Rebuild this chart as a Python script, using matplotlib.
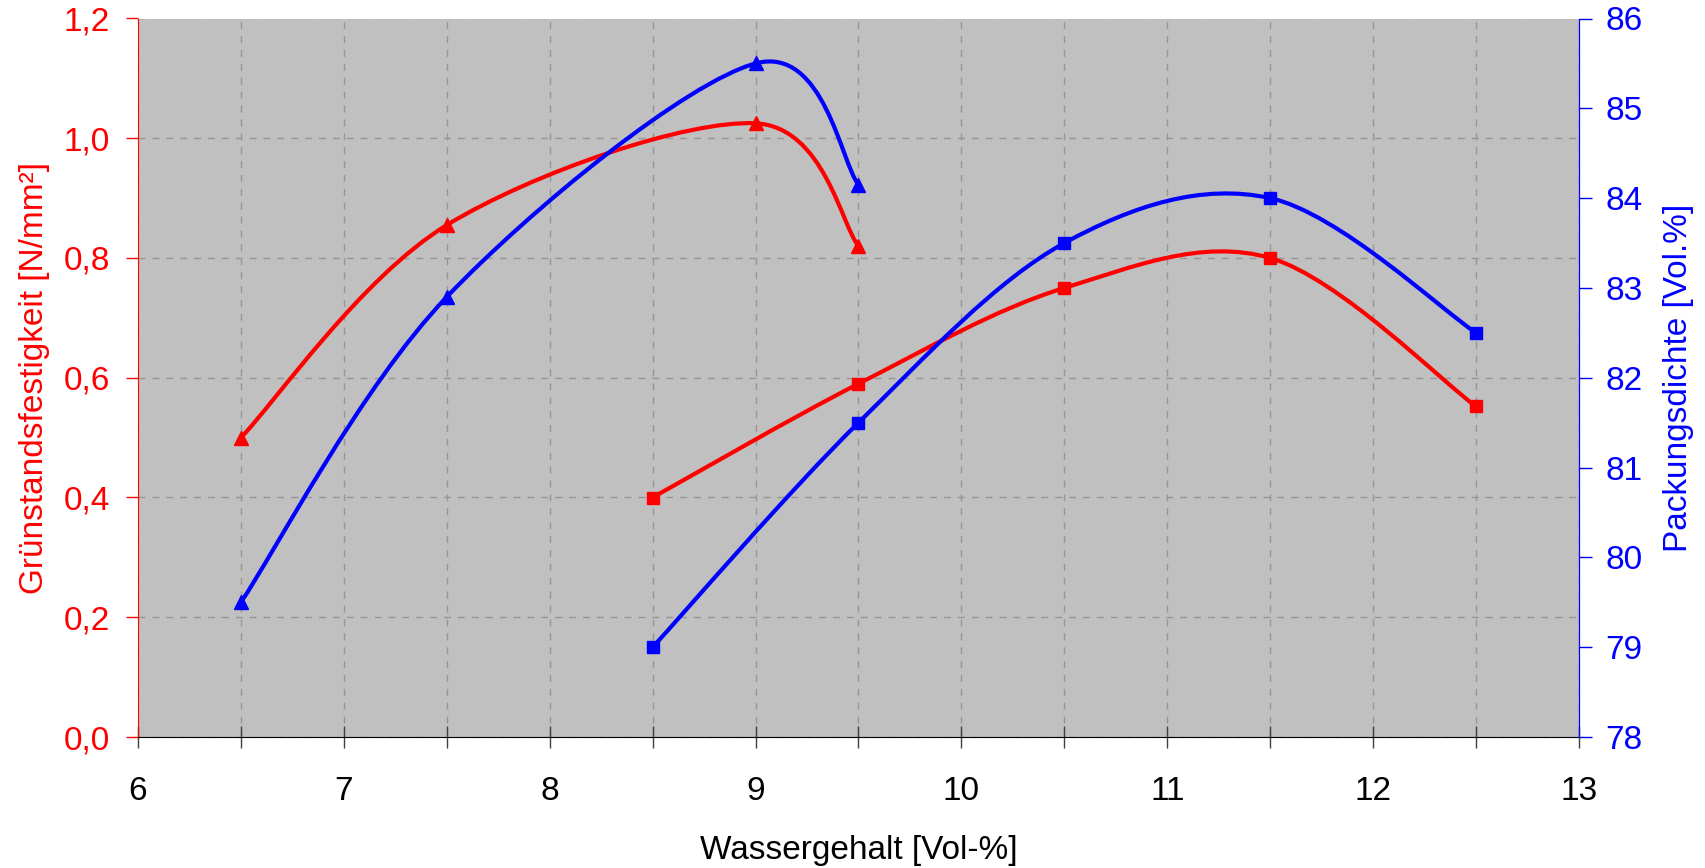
import numpy as np
import matplotlib.pyplot as plt
from matplotlib.path import Path
from matplotlib.patches import PathPatch
from matplotlib.ticker import MultipleLocator, FuncFormatter

plt.rcParams['font.family'] = ['Liberation Sans', 'DejaVu Sans']

# triangle series
x_tri = [6.5, 7.5, 9.0, 9.5]
festigkeit_tri = [0.50, 0.855, 1.025, 0.82]
dichte_tri = [79.5, 82.9, 85.5, 84.15]

# square series
x_sq = [8.5, 9.5, 10.5, 11.5, 12.5]
festigkeit_sq = [0.40, 0.59, 0.75, 0.80, 0.552]
dichte_sq = [79.0, 81.5, 83.5, 84.0, 82.5]


def smooth_path(xs, ys):
    # excel-like smoothed line: cubic bezier, catmull-rom control points
    p = np.column_stack([xs, ys]).astype(float)
    n = len(p)
    verts = [p[0]]
    codes = [Path.MOVETO]
    for i in range(n - 1):
        p0 = p[i - 1] if i > 0 else p[i]
        p3 = p[i + 2] if i + 2 < n else p[i + 1]
        c1 = p[i] + (p[i + 1] - p0) / 6
        c2 = p[i + 1] - (p3 - p[i]) / 6
        verts += [c1, c2, p[i + 1]]
        codes += [Path.CURVE4] * 3
    return Path(verts, codes)


red = '#FF0000'
blue = '#0000FF'

fig = plt.figure(figsize=(17.06, 8.68), dpi=100)
ax = fig.add_subplot(111)
fig.subplots_adjust(left=138 / 1706, right=1579 / 1706, top=1 - 18.5 / 868, bottom=1 - 737 / 868)
ax2 = ax.twinx()

ax.set_facecolor('#C0C0C0')
ax.set_xlim(6, 13)
ax.set_ylim(0, 1.2)
ax2.set_ylim(78, 86)

for xs, ys in [(x_tri, festigkeit_tri), (x_sq, festigkeit_sq)]:
    ax.add_patch(PathPatch(smooth_path(xs, ys), fill=False, edgecolor=red, lw=3, zorder=3))
for xs, ys in [(x_tri, dichte_tri), (x_sq, dichte_sq)]:
    ax2.add_patch(PathPatch(smooth_path(xs, ys), fill=False, edgecolor=blue, lw=3, zorder=3))

ax.plot(x_tri, festigkeit_tri, ls='none', marker='^', ms=10, color=red, zorder=4)
ax.plot(x_sq, festigkeit_sq, ls='none', marker='s', ms=9, color=red, zorder=4)
ax2.plot(x_tri, dichte_tri, ls='none', marker='^', ms=10, color=blue, zorder=4)
ax2.plot(x_sq, dichte_sq, ls='none', marker='s', ms=9, color=blue, zorder=4)

ax.xaxis.set_major_locator(MultipleLocator(1))
ax.xaxis.set_minor_locator(MultipleLocator(0.5))
ax.yaxis.set_major_locator(MultipleLocator(0.2))
ax2.yaxis.set_major_locator(MultipleLocator(1))
ax.yaxis.set_major_formatter(FuncFormatter(lambda v, pos: f'{v:.1f}'.replace('.', ',')))

ax.grid(True, which='both', axis='x', color='#969696', ls=(0, (5, 5)), lw=1)
ax.grid(True, which='major', axis='y', color='#969696', ls=(0, (5, 5)), lw=1)
ax.set_axisbelow(True)

ax.tick_params(axis='x', which='both', direction='inout', length=16, width=1, color='#404040',
               labelsize=24, pad=20)
ax.tick_params(axis='y', colors=red, length=9, width=1, labelsize=24, pad=11)
ax2.tick_params(axis='y', colors=blue, length=9, width=1, labelsize=24, pad=10)

for a in (ax, ax2):
    a.spines['top'].set_visible(False)
ax.spines['bottom'].set_color('black')
ax.spines['left'].set_color(red)
ax2.spines['left'].set_visible(False)
ax2.spines['right'].set_color(blue)
ax2.spines['bottom'].set_visible(False)

lab_font = ['Liberation Sans Narrow', 'Liberation Sans']
ax.set_xlabel('Wassergehalt [Vol-%]', fontsize=24, family=lab_font, labelpad=20)
ax.set_ylabel('Grünstandsfestigkeit [N/mm²]', fontsize=24, family=lab_font, color=red, labelpad=10)
ax2.set_ylabel('Packungsdichte [Vol.%]', fontsize=24, family=lab_font, color=blue, labelpad=15)

fig.savefig('out.png', dpi=100)
